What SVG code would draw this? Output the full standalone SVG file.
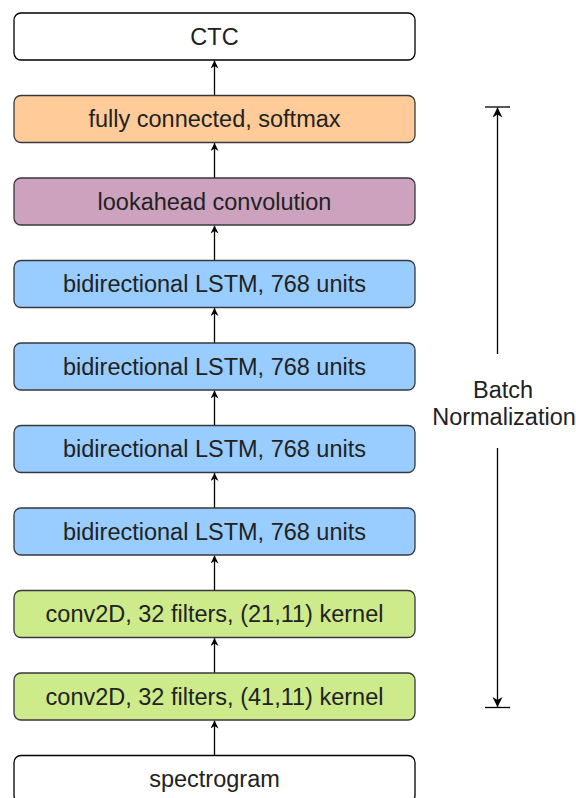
<svg xmlns="http://www.w3.org/2000/svg" width="576" height="798" viewBox="0 0 576 798">
<defs>
<style>
.box{stroke:#36393d;stroke-width:1.3}
.white{fill:#ffffff;stroke:#000000}
.orange{fill:#ffcc99}
.purple{fill:#cda2be}
.blue{fill:#99ccff}
.green{fill:#cdeb8b}
.lbl{font-family:"Liberation Sans",Arial,sans-serif;font-size:23.5px;fill:#222222;text-anchor:middle}
.conn{stroke:#000000;stroke-width:1.3;fill:none}
</style>
<marker id="ah" viewBox="0 0 10 10" refX="10" refY="5" markerWidth="8" markerHeight="8" markerUnits="userSpaceOnUse" orient="auto">
<path d="M0,0 L10,5 L0,10 L3,5 Z" fill="#000000"/>
</marker>
<marker id="ah2" viewBox="0 0 10 10" refX="10" refY="5" markerWidth="10" markerHeight="10" markerUnits="userSpaceOnUse" orient="auto">
<path d="M0,0 L10,5 L0,10 L3,5 Z" fill="#000000"/>
</marker>
</defs>
<rect width="576" height="798" fill="#ffffff"/>
<g id="connectors">
<line class="conn" x1="214.5" y1="95.5" x2="214.5" y2="60.5" marker-end="url(#ah)"/>
<line class="conn" x1="214.5" y1="178" x2="214.5" y2="143" marker-end="url(#ah)"/>
<line class="conn" x1="214.5" y1="260.5" x2="214.5" y2="225.5" marker-end="url(#ah)"/>
<line class="conn" x1="214.5" y1="343" x2="214.5" y2="308" marker-end="url(#ah)"/>
<line class="conn" x1="214.5" y1="425.5" x2="214.5" y2="390.5" marker-end="url(#ah)"/>
<line class="conn" x1="214.5" y1="508" x2="214.5" y2="473" marker-end="url(#ah)"/>
<line class="conn" x1="214.5" y1="590.5" x2="214.5" y2="555.5" marker-end="url(#ah)"/>
<line class="conn" x1="214.5" y1="673" x2="214.5" y2="638" marker-end="url(#ah)"/>
<line class="conn" x1="214.5" y1="755.5" x2="214.5" y2="720.5" marker-end="url(#ah)"/>
</g>
<g id="batchnorm">
<line class="conn" x1="485" y1="107" x2="510" y2="107"/>
<line class="conn" x1="485" y1="707.5" x2="510" y2="707.5"/>
<line class="conn" x1="497.5" y1="354" x2="497.5" y2="107.5" marker-end="url(#ah2)"/>
<line class="conn" x1="497.5" y1="448" x2="497.5" y2="707" marker-end="url(#ah2)"/>
<text class="lbl" x="503" y="397.5">Batch</text>
<text class="lbl" x="504" y="425">Normalization</text>
</g>
<g id="ctc"><rect class="box white" x="14" y="13" width="401" height="47" rx="7"/><text class="lbl" x="214.5" y="44.5">CTC</text></g>
<g id="fc"><rect class="box orange" x="14" y="95.5" width="401" height="47" rx="7"/><text class="lbl" x="214.5" y="127">fully connected, softmax</text></g>
<g id="lookahead"><rect class="box purple" x="14" y="178" width="401" height="47" rx="7"/><text class="lbl" x="214.5" y="209.5">lookahead convolution</text></g>
<g id="lstm1"><rect class="box blue" x="14" y="260.5" width="401" height="47" rx="7"/><text class="lbl" x="214.5" y="292">bidirectional LSTM, 768 units</text></g>
<g id="lstm2"><rect class="box blue" x="14" y="343" width="401" height="47" rx="7"/><text class="lbl" x="214.5" y="374.5">bidirectional LSTM, 768 units</text></g>
<g id="lstm3"><rect class="box blue" x="14" y="425.5" width="401" height="47" rx="7"/><text class="lbl" x="214.5" y="457">bidirectional LSTM, 768 units</text></g>
<g id="lstm4"><rect class="box blue" x="14" y="508" width="401" height="47" rx="7"/><text class="lbl" x="214.5" y="539.5">bidirectional LSTM, 768 units</text></g>
<g id="conv2"><rect class="box green" x="14" y="590.5" width="401" height="47" rx="7"/><text class="lbl" x="214.5" y="622">conv2D, 32 filters, (21,11) kernel</text></g>
<g id="conv1"><rect class="box green" x="14" y="673" width="401" height="47" rx="7"/><text class="lbl" x="214.5" y="704.5">conv2D, 32 filters, (41,11) kernel</text></g>
<g id="spectrogram"><rect class="box white" x="14" y="755.5" width="401" height="47" rx="7"/><text class="lbl" x="214.5" y="787">spectrogram</text></g>
</svg>
